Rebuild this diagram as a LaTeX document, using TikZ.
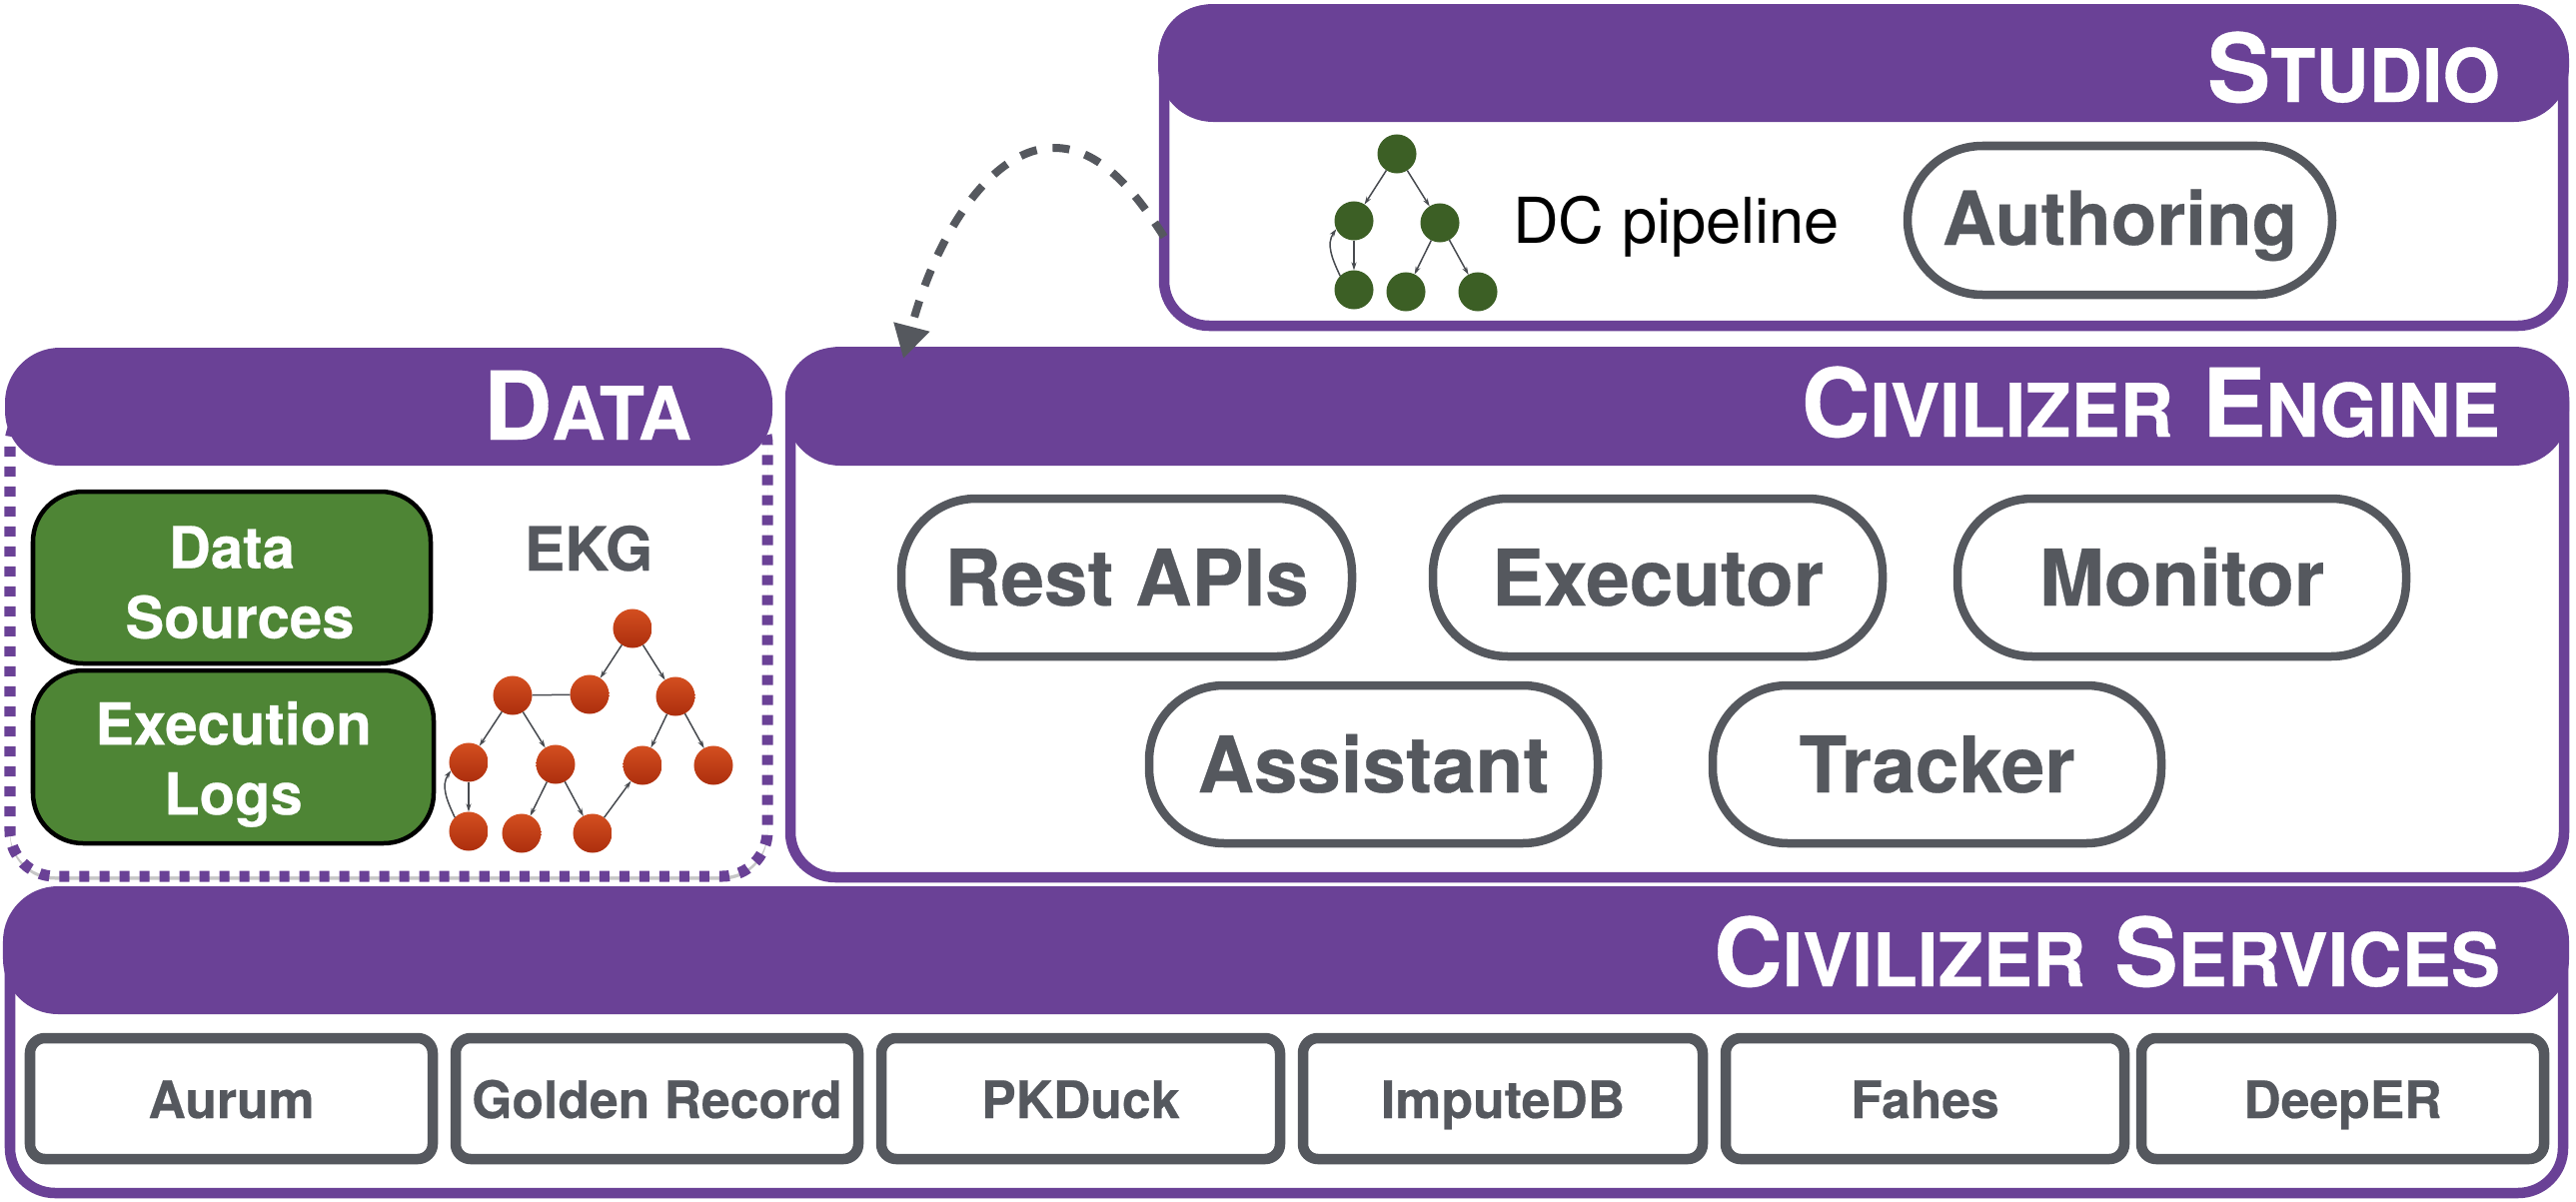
\documentclass[tikz,border=0pt]{standalone}
\usepackage{fontspec}
\setmainfont[BoldFeatures={FakeBold=0.4}]{TeX Gyre Heros}
\usetikzlibrary{arrows.meta,shadows}
\definecolor{pur}{HTML}{6A4196}
\definecolor{gry}{HTML}{55585E}
\definecolor{grn}{HTML}{4E8535}
\definecolor{dgrn}{HTML}{3C5F25}
\definecolor{redt}{HTML}{D44F20}
\definecolor{redb}{HTML}{AC2E0D}
\newcommand\bx[7]{\node[#1,minimum width={(#4-#2)*0.01cm},minimum height={(#5-#3)*0.01cm},at={({(#2+#4)/2},{(#3+#5)/2})}] (#6) {#7};}
\newcommand\Tb[1]{{\fontsize{27}{30}\selectfont #1}}
\newcommand\Ts[1]{{\fontsize{21}{30}\selectfont #1}}
\newcommand\Wsp{\hspace{0.29cm}}
\tikzset{
  base/.style={inner sep=0pt,outer sep=0pt},
  softshadow/.style={drop shadow={shadow xshift=0cm,shadow yshift=-0.035cm,opacity=0.22,fill=black}},
  frame/.style={base,draw=pur,line width=0.105cm,fill=white,rounded corners=0.45cm,softshadow},
  dframe/.style={base,draw=pur,line width=0.11cm,fill=white,rounded corners=0.45cm,dash pattern=on 0.1cm off 0.1cm,softshadow},
  header/.style={base,fill=pur,rounded corners=0.55cm},
  title/.style={base,anchor=base east,text=white,font=\bfseries},
  pill/.style={base,draw=gry,line width=0.085cm,fill=white,rounded corners=0.75cm,text=gry,text height=0.68cm,text depth=0.12cm,font=\bfseries\fontsize{22.2}{26}\selectfont,softshadow},
  authpill/.style={pill,text height=0.64cm,text depth=0.15cm,font=\bfseries\fontsize{21.2}{26}\selectfont},
  svc/.style={base,draw=gry,line width=0.105cm,fill=white,rounded corners=0.15cm,text=gry,text height=0.47cm,text depth=0.08cm,font=\bfseries\fontsize{14.7}{18}\selectfont,softshadow},
  src/.style={base,draw=black,line width=0.045cm,fill=grn,rounded corners=0.5cm,text=white,align=center,font=\bfseries\fontsize{16.5}{19.9}\selectfont},
  gnode/.style={base,circle,fill=dgrn,minimum size=0.39cm},
  rnode/.style={base,circle,top color=redt,bottom color=redb,minimum size=0.39cm},
  edge/.style={gry!85!black,line width=0.015cm,-{Stealth[length=0.08cm,width=0.05cm]}},
  plain/.style={gry!85!black,line width=0.015cm},
  dasharrow/.style={gry,line width=0.08cm,dash pattern=on 0.17cm off 0.16cm,-{Triangle[length=0.33cm,width=0.35cm]}},
}
\begin{document}
\begin{tikzpicture}[x=0.01cm,y=-0.01cm]
\useasboundingbox (0,0) rectangle (2578,1203);
\fill[white] (0,0) rectangle (2578,1203);
% Studio
\bx{frame}{1165}{10}{2565}{326}{studio}{}
\bx{header}{1159}{4}{2571}{122}{studiohead}{}
\node[title] (studiotitle) at (2502,102) {\Tb{S}\Ts{TUDIO}};
\node[base,anchor=base west,font=\fontsize{18}{20}\selectfont] (dc) at (1514,243) {DC pipeline};
\bx{authpill}{1909}{146}{2334}{295}{authoring}{Authoring}
\node[gnode] (g1) at (1398,154) {};
\node[gnode] (g2) at (1355,221) {};
\node[gnode] (g3) at (1441,223) {};
\node[gnode] (g4) at (1355,290) {};
\node[gnode] (g5) at (1407,292) {};
\node[gnode] (g6) at (1479,292) {};
\draw[edge] (g1) -- (g2);
\draw[edge] (g1) -- (g3);
\draw[edge] (g2) -- (g4);
\draw[edge] (g3) -- (g5);
\draw[edge] (g3) -- (g6);
\draw[edge] (g4.135) to[out=115,in=235] (g2.205);
% Data
\bx{dframe}{10}{400}{768}{877}{data}{}
\bx{header}{5}{348}{773}{466}{datahead}{}
\node[title] (datatitle) at (692,440) {\Tb{D}\Ts{ATA}};
\bx{src}{33}{492}{431}{664}{sources}{\rule{0pt}{0.52cm}Data\\\hspace*{0.16cm}Sources}
\bx{src}{33}{671}{434}{844}{logs}{\rule{0pt}{0.58cm}Execution\\Logs}
\node[base,anchor=base,text=gry,font=\bfseries\fontsize{17.3}{20}\selectfont] (ekg) at (589,571) {EKG};
\node[rnode] (r1) at (633,629) {};
\node[rnode] (r2) at (513,696) {};
\node[rnode] (r3) at (590,695) {};
\node[rnode] (r4) at (676,697) {};
\node[rnode] (r5) at (469,763) {};
\node[rnode] (r6) at (556,765) {};
\node[rnode] (r7) at (643,766) {};
\node[rnode] (r8) at (714,766) {};
\node[rnode] (r9) at (469,832) {};
\node[rnode] (r10) at (522,834) {};
\node[rnode] (r11) at (593,834) {};
\draw[edge] (r1) -- (r3);
\draw[edge] (r1) -- (r4);
\draw[plain] (r2) -- (r3);
\draw[edge] (r2) -- (r5);
\draw[edge] (r2) -- (r6);
\draw[edge] (r4) -- (r7);
\draw[edge] (r4) -- (r8);
\draw[edge] (r5) -- (r9);
\draw[edge] (r6) -- (r10);
\draw[edge] (r6) -- (r11);
\draw[edge] (r11) -- (r7);
\draw[edge] (r9.135) to[out=115,in=235] (r5.205);
% Engine
\bx{frame}{791}{353}{2566}{878}{engine}{}
\bx{header}{786}{347}{2571}{466}{enginehead}{}
\node[title] (enginetitle) at (2502,437) {\Tb{C}\Ts{IVILIZER}\Wsp\Tb{E}\Ts{NGINE}};
\bx{pill}{902}{499}{1353}{657}{rest}{Rest APIs}
\bx{pill}{1434}{499}{1884}{657}{exec}{Executor}
\bx{pill}{1959}{499}{2408}{657}{monitor}{Monitor}
\bx{pill}{1150}{686}{1599}{844}{assistant}{Assistant}
\bx{pill}{1714}{686}{2163}{844}{tracker}{Tracker}
% Services
\bx{frame}{10}{900}{2565}{1194}{services}{}
\bx{header}{3}{887}{2571}{1015}{servicehead}{}
\node[title] (servicetitle) at (2502,987) {\Tb{C}\Ts{IVILIZER}\Wsp\Tb{S}\Ts{ERVICES}};
\bx{svc}{30}{1039}{433}{1160}{s1}{Aurum}
\bx{svc}{456}{1039}{859}{1160}{s2}{Golden Record}
\bx{svc}{882}{1039}{1281}{1160}{s3}{PKDuck}
\bx{svc}{1304}{1039}{1704}{1160}{s4}{ImputeDB}
\bx{svc}{1727}{1039}{2126}{1160}{s5}{Fahes}
\bx{svc}{2143}{1039}{2546}{1160}{s6}{DeepER}
% Dashed connector
\draw[dasharrow] ([yshift=-0.69cm]studio.west) .. controls (1135,190) and (1100,148) .. (1055,148) .. controls (990,148) and (935,240) .. ([xshift=1.13cm,yshift=-0.06cm]engine.north west);
\end{tikzpicture}
\end{document}
